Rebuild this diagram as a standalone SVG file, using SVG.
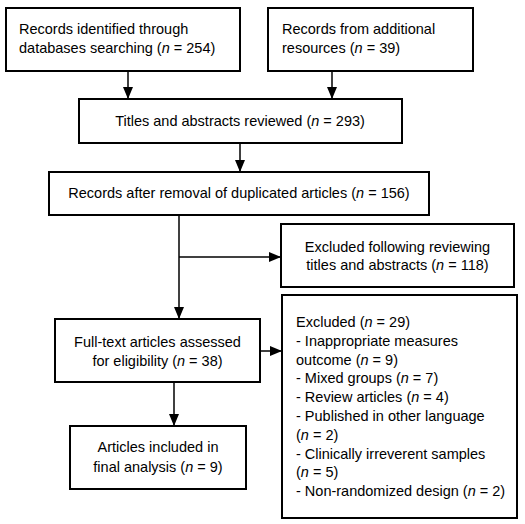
<svg xmlns="http://www.w3.org/2000/svg" width="525" height="524" viewBox="0 0 525 524">
<style>
.n rect{fill:#fff;stroke:#000;stroke-width:2}
text{font-family:"Liberation Sans",Arial,sans-serif;font-size:14.5px;fill:#000}
.c{text-anchor:middle}
.e line{stroke:#000;stroke-width:1.5}
</style>
<defs>
<marker id="a" markerWidth="12" markerHeight="10" refX="11" refY="5" orient="auto" markerUnits="userSpaceOnUse">
<path d="M0,0 L12,5 L0,10 Z" fill="#000"/>
</marker>
</defs>
<rect width="525" height="524" fill="#fff"/>
<g class="n" id="n1"><rect x="6" y="8" width="234" height="63"/>
<text x="19" y="34">Records identified through</text>
<text x="19" y="53">databases searching (<tspan font-style="italic">n</tspan> = 254)</text></g>
<g class="n" id="n2"><rect x="268" y="8" width="205" height="63"/>
<text x="282" y="34">Records from additional</text>
<text x="282" y="53">resources (<tspan font-style="italic">n</tspan> = 39)</text></g>
<g class="n" id="n3"><rect x="79" y="99" width="323" height="44"/>
<text class="c" x="240" y="126">Titles and abstracts reviewed (<tspan font-style="italic">n</tspan> = 293)</text></g>
<g class="n" id="n4"><rect x="49" y="172" width="380" height="43"/>
<text class="c" x="239" y="198">Records after removal of duplicated articles (<tspan font-style="italic">n</tspan> = 156)</text></g>
<g class="n" id="n5"><rect x="281" y="224" width="233" height="63"/>
<text class="c" x="397.5" y="252">Excluded following reviewing</text>
<text class="c" x="397.5" y="270">titles and abstracts (<tspan font-style="italic">n</tspan> = 118)</text></g>
<g class="n" id="n6"><rect x="55" y="319" width="205" height="63"/>
<text class="c" x="157.5" y="347">Full-text articles assessed</text>
<text class="c" x="157.5" y="366">for eligibility (<tspan font-style="italic">n</tspan> = 38)</text></g>
<g class="n" id="n7"><rect x="282" y="295" width="235" height="223"/>
<text x="296" y="327">Excluded (<tspan font-style="italic">n</tspan> = 29)</text>
<text x="296" y="346">- Inappropriate measures</text>
<text x="296" y="364.6">outcome (<tspan font-style="italic">n</tspan> = 9)</text>
<text x="296" y="383.4">- Mixed groups (<tspan font-style="italic">n</tspan> = 7)</text>
<text x="296" y="402.2">- Review articles (<tspan font-style="italic">n</tspan> = 4)</text>
<text x="296" y="421">- Published in other language</text>
<text x="296" y="439.8">(<tspan font-style="italic">n</tspan> = 2)</text>
<text x="296" y="458.6">- Clinically irreverent samples</text>
<text x="296" y="477.4">(<tspan font-style="italic">n</tspan> = 5)</text>
<text x="296" y="496.2">- Non-randomized design (<tspan font-style="italic">n</tspan> = 2)</text></g>
<g class="n" id="n8"><rect x="70" y="426" width="176" height="63"/>
<text class="c" x="158" y="452">Articles included in</text>
<text class="c" x="158" y="472">final analysis (<tspan font-style="italic">n</tspan> = 9)</text></g>
<g class="e" id="edges">
<line x1="128" y1="71" x2="128" y2="98" marker-end="url(#a)"/>
<line x1="332" y1="71" x2="332" y2="98" marker-end="url(#a)"/>
<line x1="240" y1="143" x2="240" y2="171" marker-end="url(#a)"/>
<line x1="179" y1="215" x2="179" y2="318" marker-end="url(#a)"/>
<line x1="179" y1="257" x2="280" y2="257" marker-end="url(#a)"/>
<line x1="260" y1="351" x2="281" y2="351" marker-end="url(#a)"/>
<line x1="174" y1="382" x2="174" y2="425" marker-end="url(#a)"/>
</g>
</svg>
